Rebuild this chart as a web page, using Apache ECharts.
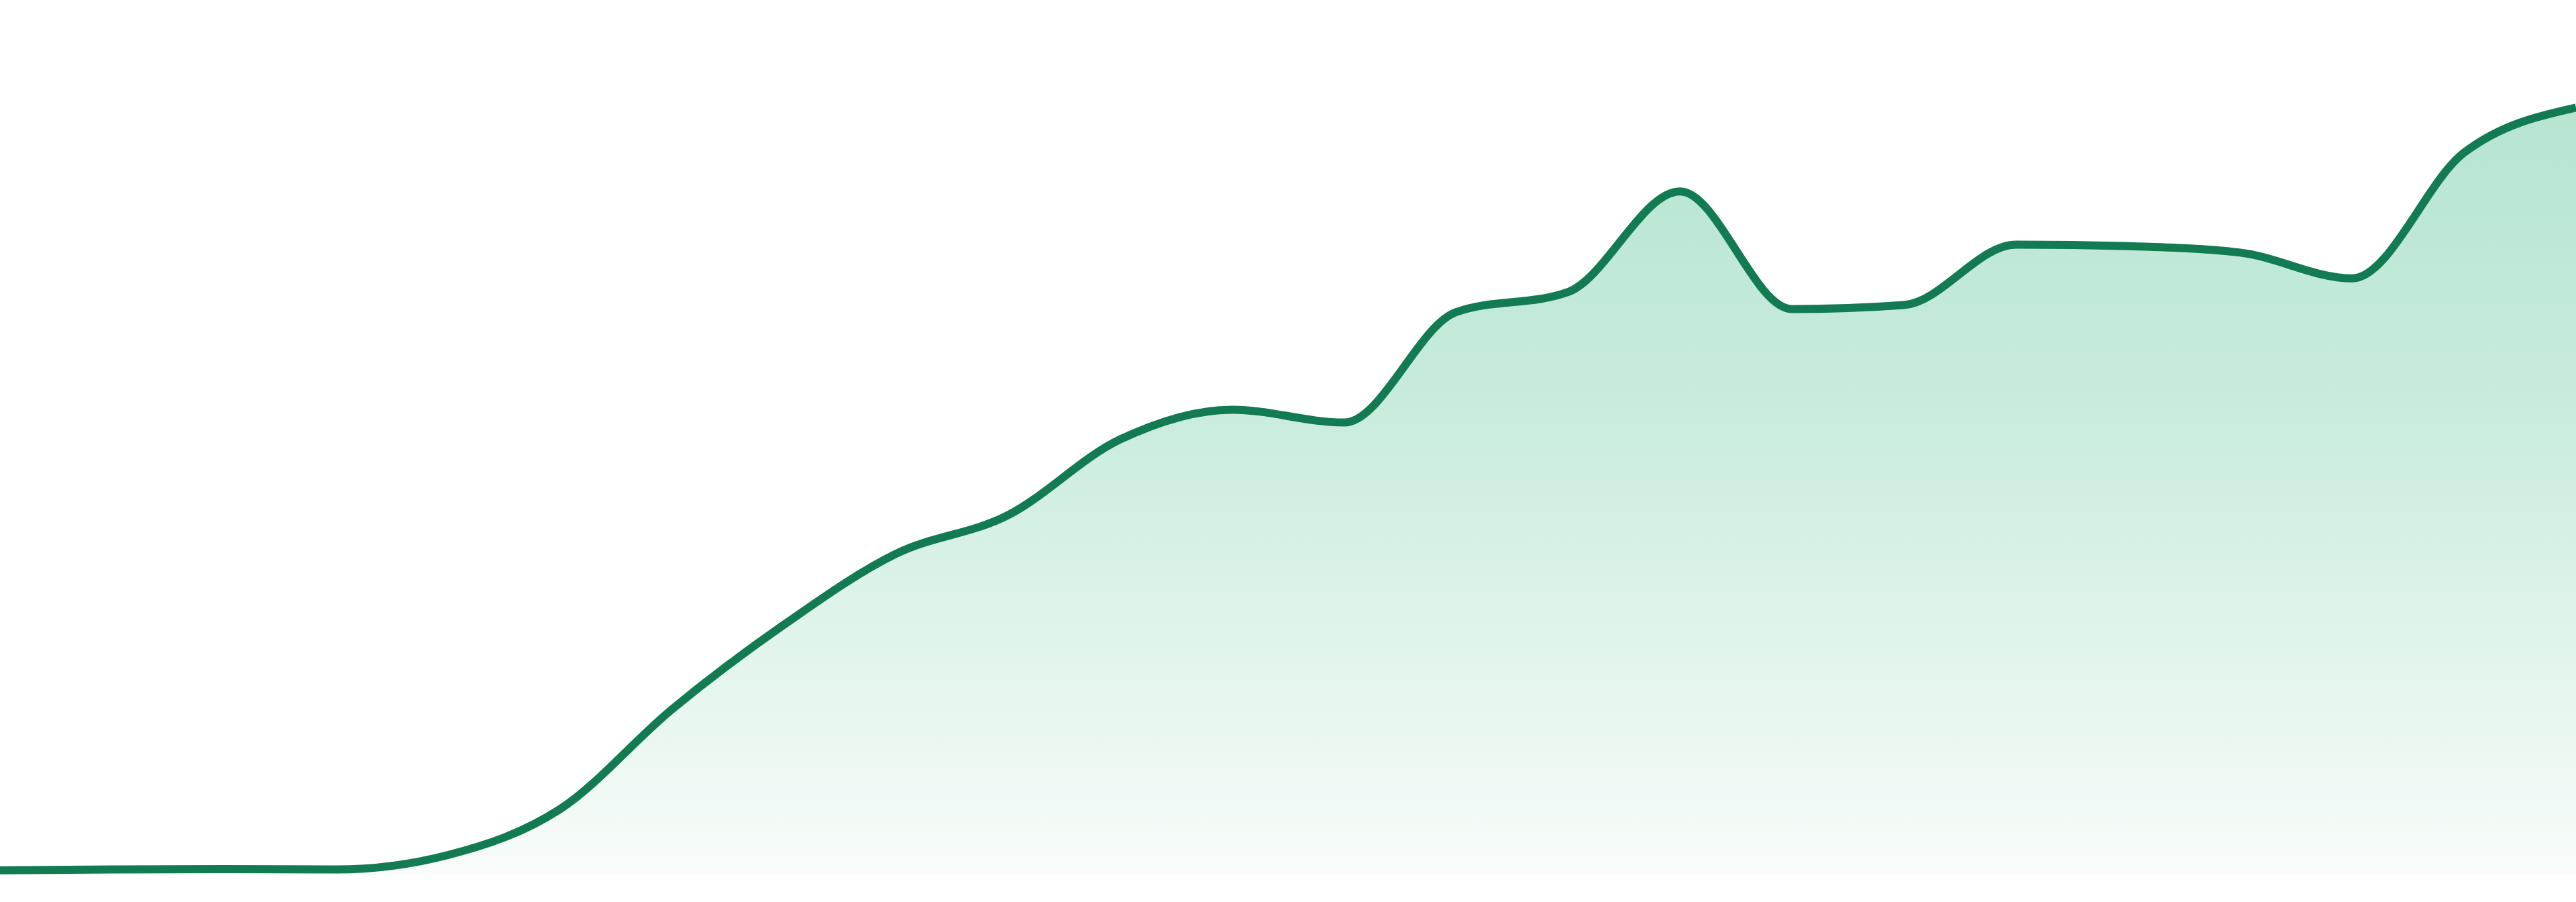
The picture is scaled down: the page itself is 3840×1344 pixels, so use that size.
<!DOCTYPE html>
<html>
<head>
<meta charset="utf-8">
<script src="https://cdn.jsdelivr.net/npm/echarts@6/dist/echarts.min.js"></script>
<style>
  html, body { margin: 0; padding: 0; background: #ffffff; }
  #chart { width: 3840px; height: 1344px; }
</style>
</head>
<body>
<div id="chart"></div>
<script>
// Categories (24 evenly spaced points, no visible labels)
const categories = ['1','2','3','4','5','6','7','8','9','10','11','12','13','14','15','16','17','18','19','20','21','22','23','24'];
// Series values
const values = [0.6, 0.7, 0.75, 0.7, 2.5, 8.2, 20.6, 31.1, 39.9, 44.7, 54.1, 57.8, 56.2, 69.9, 72.4, 84.9, 70.3, 70.8, 78.3, 78.1, 77.3, 74.1, 89.7, 95.3];
const yMin = 0;
const yMax = 100;

// Monotone-X cubic path through pixel points (same rule as a monotone spline)
function monotonePath(pts) {
  const n = pts.length;
  const h = [], s = [], t = new Array(n);
  for (let i = 0; i < n - 1; i++) {
    h[i] = pts[i + 1][0] - pts[i][0];
    s[i] = (pts[i + 1][1] - pts[i][1]) / h[i];
  }
  const sign = x => (x < 0 ? -1 : 1);
  for (let i = 1; i < n - 1; i++) {
    const p = (s[i - 1] * h[i] + s[i] * h[i - 1]) / (h[i - 1] + h[i]);
    t[i] = (sign(s[i - 1]) + sign(s[i])) *
      Math.min(Math.abs(s[i - 1]), Math.abs(s[i]), 0.5 * Math.abs(p)) || 0;
  }
  t[0] = (3 * s[0] - t[1]) / 2;
  t[n - 1] = (3 * s[n - 2] - t[n - 2]) / 2;
  let d = 'M' + pts[0][0] + ',' + pts[0][1];
  for (let i = 0; i < n - 1; i++) {
    const dx = h[i] / 3;
    const x0 = pts[i][0], y0 = pts[i][1], x1 = pts[i + 1][0], y1 = pts[i + 1][1];
    d += ' C' + (x0 + dx) + ',' + (y0 + dx * t[i]) + ' ' +
      (x1 - dx) + ',' + (y1 - dx * t[i + 1]) + ' ' + x1 + ',' + y1;
  }
  return d;
}

const chart = echarts.init(document.getElementById('chart'));
chart.setOption({
  backgroundColor: '#ffffff',
  animation: false,
  grid: { left: 0, right: 0, top: 104, bottom: 40 },
  xAxis: {
    type: 'category',
    data: categories,
    boundaryGap: false,
    show: false
  },
  yAxis: {
    type: 'value',
    min: yMin,
    max: yMax,
    show: false,
    splitLine: { show: false }
  },
  series: [{
    type: 'custom',
    clip: false,
    data: values.map((v, i) => [i, v]),
    encode: { x: 0, y: 1 },
    renderItem: function (params, api) {
      if (params.dataIndex !== 0) return null;
      const pts = values.map((v, i) => api.coord([i, v]));
      const yb = api.coord([0, yMin])[1];
      const line = monotonePath(pts);
      const area = line + ' L' + pts[pts.length - 1][0] + ',' + yb + ' L' + pts[0][0] + ',' + yb + ' Z';
      return {
        type: 'group',
        children: [
          {
            type: 'path',
            shape: { pathData: area },
            style: {
              fill: new echarts.graphic.LinearGradient(0, 0, 0, 1, [
                { offset: 0, color: '#b6e5d0' },
                { offset: 0.4, color: '#c9ecdc' },
                { offset: 0.65, color: '#ddf3e9' },
                { offset: 1, color: '#f8fcfa' }
              ]),
              stroke: null
            }
          },
          {
            type: 'path',
            shape: { pathData: line },
            style: {
              fill: null,
              stroke: '#127b51',
              lineWidth: 12,
              lineJoin: 'round'
            }
          }
        ]
      };
    }
  }]
});
</script>
</body>
</html>
